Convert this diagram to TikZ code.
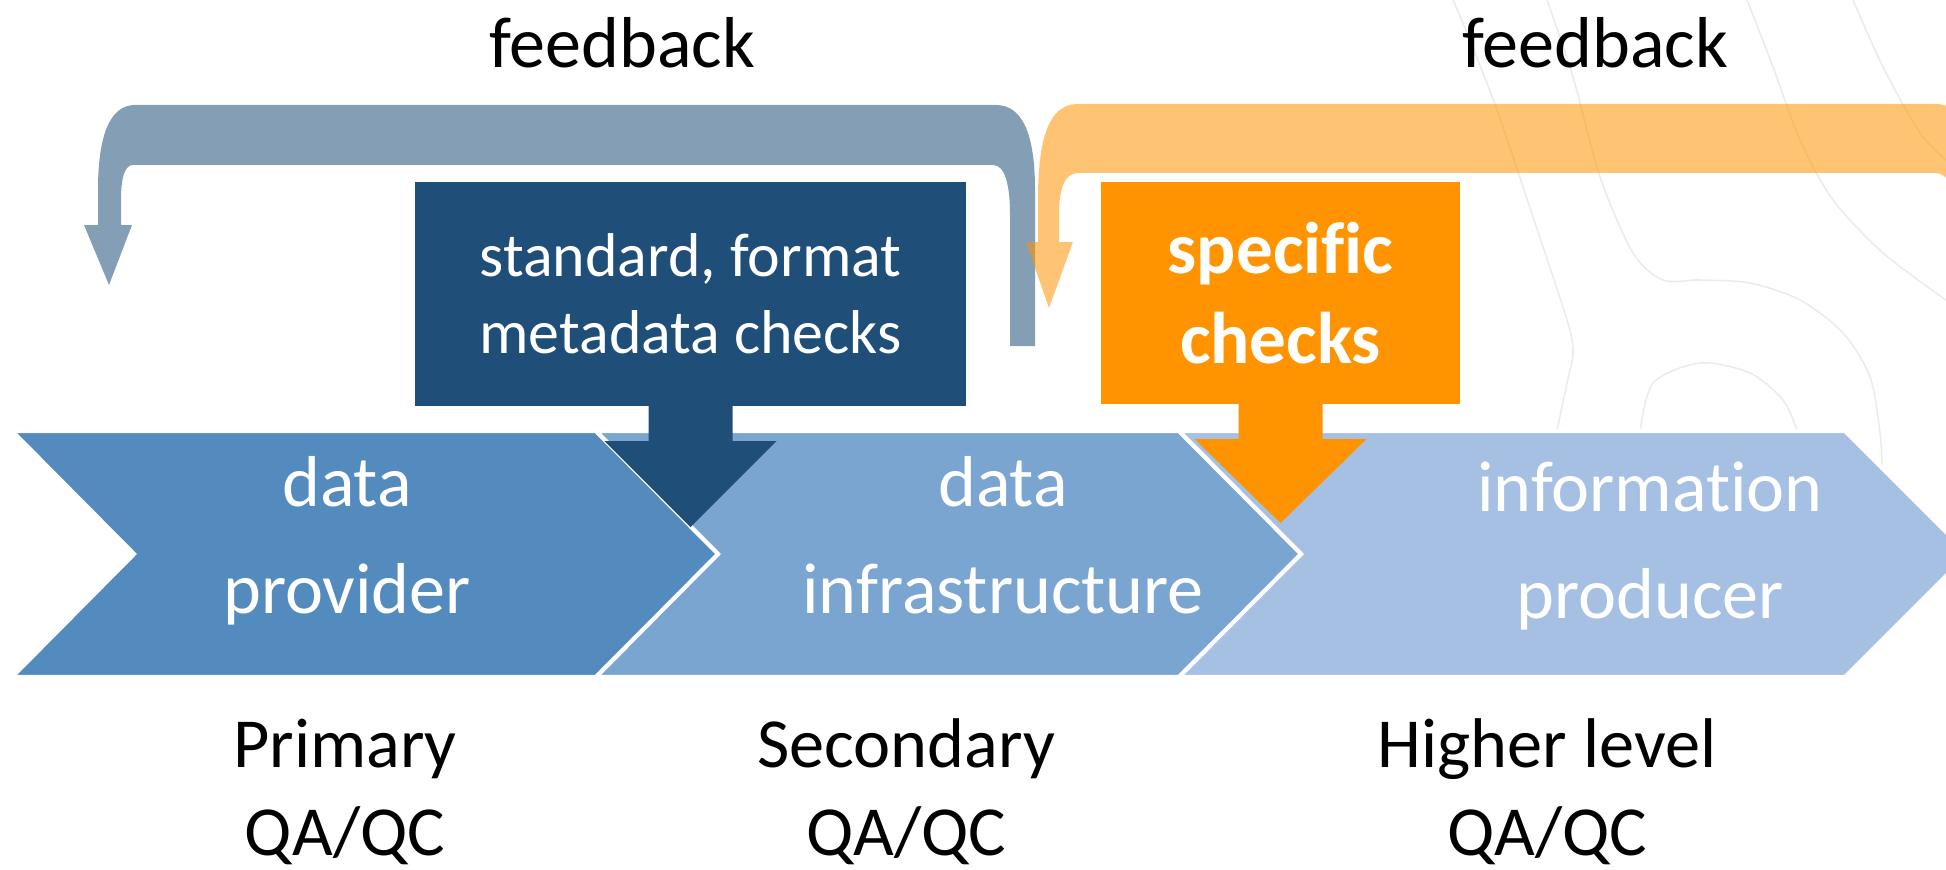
\documentclass[tikz,border=0pt]{standalone}
\usepackage{fontspec}
\setmainfont{Carlito}[Ligatures=NoCommon]
\usepackage{tikz}
\definecolor{provblue}{RGB}{83,139,190}
\definecolor{infrablue}{RGB}{123,165,209}
\definecolor{prodblue}{RGB}{166,192,227}
\definecolor{stdblue}{RGB}{31,78,121}
\definecolor{specorange}{RGB}{255,148,0}
\definecolor{faintgreen}{RGB}{230,239,230}

\begin{document}
\begin{tikzpicture}[x=0.01cm, y=-0.01cm,
      every node/.append style={inner sep=0pt, outer sep=0pt},
      chev/.style={draw=white, line width=1.2pt},
      feedarrow/.style={fill=#1, fill opacity=0.55},
      checkbox/.style={text=white, align=center},
      stagetext/.style={text=white, align=center, anchor=base, font=\fontsize{20.5}{30.2}\selectfont},
      qalabel/.style={text=black, align=center, anchor=base, font=\fontsize{20}{24.8}\selectfont},
      watermark/.style={draw=faintgreen, line width=0.45pt}]
	  \tikzstyle{fbtext} = [text=black, anchor=base, font=\fontsize{20.5}{24}\selectfont]
	  \useasboundingbox (0,0) rectangle (1946,870);
	  \clip (0,0) rectangle (1946,870);
	  % faint background lines
	  \draw[watermark] plot[smooth] coordinates {(1453,0) (1467,33) (1497,110) (1533,217) (1567,320) (1573,353) (1567,383) (1557,430)};
	  \draw[watermark] plot[smooth] coordinates {(1547,0) (1573,77) (1600,177) (1633,253) (1663,280) (1700,280) (1750,283) (1800,300) (1843,333) (1870,377) (1880,433) (1882,470)};
	  \draw[watermark] plot[smooth] coordinates {(1747,0) (1773,67) (1800,140) (1833,200) (1883,253) (1946,300)};
	  \draw[watermark] plot[smooth] coordinates {(1853,0) (1883,67) (1920,133) (1946,160)};
	  \draw[watermark] plot[smooth] coordinates {(1640,433) (1653,383) (1700,363) (1750,373) (1783,400) (1797,430)};
	  % chevrons
	  \foreach \x/\w/\c in {12/584/provblue, 596/583/infrablue, 1179/666/prodblue}
	    \draw[chev, fill=\c] (\x,431) -- ++(\w,0) -- ++(123,123) -- ++(-123,123) -- ++(-\w,0) -- ++(122,-123) -- cycle;
	  \node (prov) [stagetext] at (347,613) {data\\provider};
	  \node (infra) [stagetext] at (1003,613) {data\\infrastructure};
	  \node (prod) [stagetext] at (1650,618) {information\\producer};
	  % check boxes
	  \node (std_box) [checkbox, fill=stdblue, minimum width=5.51cm, minimum height=2.24cm,
	      font=\fontsize{17.6}{21.9}\selectfont] at (690.5,294) {standard, format\\metadata checks};
	  \node (spec_box) [checkbox, fill=specorange, minimum width=3.59cm, minimum height=2.22cm,
	      font=\fontsize{20.8}{25.6}\selectfont\bfseries] at (1280.5,293) {specific\\checks};
	  \fill[stdblue] (std_box.south) ++(-42,0) -- ++(0,35) -- ++(-44,0) -- ++(86,86) -- ++(86,-86) -- ++(-44,0) -- ++(0,-35) -- cycle;
	  \fill[specorange] (spec_box.south) ++(-42,0) -- ++(0,35) -- ++(-44,0) -- ++(86,84) -- ++(86,-84) -- ++(-44,0) -- ++(0,-35) -- cycle;
	  % feedback loops
	  \fill[feedarrow=stdblue] (1010,346) -- (1010,215) .. controls (1010,185) and (1005,165) .. (993,165)
	      -- (133,165) .. controls (124,165) and (121,180) .. (121,200) -- (121,225) -- (132,225)
	      -- (109,285) -- (84,225) -- (98,225) -- (98,190) .. controls (98,140) and (108,105) .. (135,105)
	      -- (996,105) .. controls (1025,105) and (1035,140) .. (1035,190) -- (1035,346) -- cycle;
	  \fill[feedarrow=specorange] (1059,242) -- (1059,215) .. controls (1059,190) and (1064,173) .. (1078,173)
	      -- (1936,173) .. controls (1950,173) and (1955,195) .. (1955,220) -- (1955,320) -- (1976,320)
	      -- (1976,200) .. controls (1976,140) and (1966,104) .. (1936,104)
	      -- (1078,104) .. controls (1048,104) and (1038,140) .. (1038,200) -- (1038,242) -- (1026,242)
	      -- (1049,308) -- (1073,242) -- cycle;
	  \node (fb_left) [fbtext] at (622,68) {feedback};
	  \node (fb_right) [fbtext] at (1595,68) {feedback};
	  % QA/QC levels
	  \node (primary) [qalabel] at (345,855) {Primary\\QA/QC};
	  \node (secondary) [qalabel] at (906,855) {Secondary\\QA/QC};
	  \node (higher) [qalabel] at (1547,855) {Higher level\\QA/QC};
	\end{tikzpicture}
\end{document}
